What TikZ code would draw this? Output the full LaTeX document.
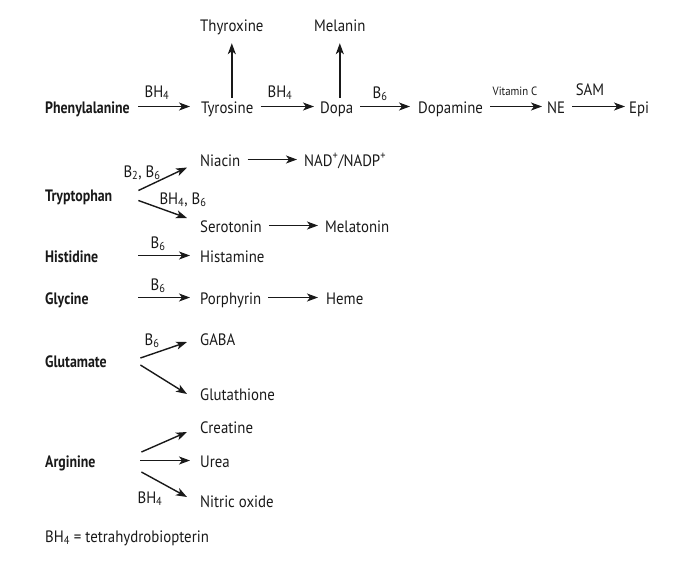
\documentclass[tikz,border=0pt]{standalone}
\usepackage{fontspec}
\setmainfont{PT Sans}[FakeStretch=0.9,BoldFeatures={FakeStretch=0.84}]
\usetikzlibrary{arrows.meta,positioning}
\tikzset{mol/.style={anchor=base west,inner sep=0pt,text height=13pt,text depth=0pt,font=\fontsize{16.5}{19}\selectfont},
  amino/.style={mol,font=\fontsize{16.5}{19}\selectfont\bfseries,text width=86pt},
  cof/.style={anchor=base,inner sep=0pt,font=\fontsize{16.5}{19}\selectfont},
  conv/.style={-{Stealth[length=11pt,width=8pt,inset=3pt]},line width=1.4pt,shorten <=7pt,shorten >=7pt},
  fork/.style={conv,shorten <=0pt,shorten >=0pt}}

\begin{document}
\begin{tikzpicture}[x=1pt,y=-1pt,color=black!90]
    \useasboundingbox (0,0) rectangle (685,566);

    \node[amino] (phe) at (45,113) {Phenylalanine};
    \node[mol] (tyr) at (201,113) {Tyrosine};
    \node[mol] (dopa) at (320,113) {Dopa};
    \node[mol] (dpm) at (418,113) {Dopamine};
    \node[mol] (ne) at (547,113) {NE};
    \node[mol] (epi) at (629,113) {Epi};
    \node[mol] (thy) at (200,31) {Thyroxine};
    \node[mol] (mel) at (314,31) {Melanin};

    \node[amino] (trp) at (45,201) {Tryptophan};
    \node[mol] (nia) at (200,166) {Niacin};
    \node[mol] (nad) at (304,166) {NAD\textsuperscript{+}/NADP\textsuperscript{+}};
    \node[mol] (ser) at (200,232) {Serotonin};
    \node[mol] (mlt) at (325,232) {Melatonin};

    \node[amino] (his) at (45,262) {Histidine};
    \node[mol] (hsm) at (200,262) {Histamine};

    \node[amino] (gly) at (45,304) {Glycine};
    \node[mol] (por) at (200,304) {Porphyrin};
    \node[mol] (heme) at (326,304) {Heme};

    \node[amino] (glu) at (45,367) {Glutamate};
    \node[mol] (gaba) at (200,345) {GABA};
    \node[mol] (gsh) at (200,400) {Glutathione};

    \node[amino] (arg) at (45,467) {Arginine};
    \node[mol] (cre) at (200,433) {Creatine};
    \node[mol] (urea) at (200,467) {Urea};
    \node[mol] (no) at (200,507) {Nitric oxide};

    \node[cof] (l1) at (157,97) {BH\textsubscript{4}};
    \node[cof] (l2) at (280,97) {BH\textsubscript{4}};
    \node[cof] (l3) at (380,98) {B\textsubscript{6}};
    \node[cof,font=\fontsize{12}{14}\selectfont] (l4) at (515,95) {Vitamin C};
    \node[cof] (l5) at (590,95) {SAM};
    \node[cof] (l6) at (142,177) {B\textsubscript{2}, B\textsubscript{6}};
    \node[cof] (l7) at (183,204) {BH\textsubscript{4}, B\textsubscript{6}};
    \node[cof] (l8) at (158,248) {B\textsubscript{6}};
    \node[cof] (l9) at (158,290) {B\textsubscript{6}};
    \node[cof] (l10) at (152,345) {B\textsubscript{6}};
    \node[cof] (l11) at (150,503) {BH\textsubscript{4}};

    \node[mol] (key) at (45,542) {BH\textsubscript{4} = tetrahydrobiopterin};

    \draw[conv,shorten >=11pt] (phe) -- (tyr);
    \draw[conv,shorten >=6pt] (tyr) -- (dopa);
    \draw[conv,shorten >=8pt] (dopa) -- (dpm);
    \draw[conv,shorten >=5pt] (dpm) -- (ne);
    \draw[conv,shorten >=4pt] (ne) -- (epi);
    \draw[conv,shorten <=2pt,shorten >=12pt] (tyr.north -| thy) -- (thy);
    \draw[conv,shorten <=2pt,shorten >=12pt] (dopa.north -| mel) -- (mel);

    \draw[fork] ([xshift=7pt,yshift=4pt]trp.east) -- ([xshift=-13pt,yshift=-8pt]nia.west);
    \draw[fork] ([xshift=7pt,yshift=-6pt]trp.east) -- ([xshift=-13pt,yshift=7.5pt]ser.west);
    \draw[conv] (nia) -- (nad);
    \draw[conv] (ser) -- (mlt);

    \draw[conv,shorten >=10pt] (his) -- (hsm);
    \draw[conv,shorten >=10pt] (gly) -- (por);
    \draw[conv,shorten >=8pt] (por) -- (heme);

    \draw[fork] ([xshift=9pt,yshift=2.5pt]glu.east) -- ([xshift=-13pt,yshift=-3.5pt]gaba.west);
    \draw[fork] ([xshift=9pt,yshift=-4.5pt]glu.east) -- ([xshift=-13pt,yshift=-0.5pt]gsh.west);

    \draw[fork] ([xshift=10pt,yshift=8.5pt]arg.east) -- ([xshift=-13pt,yshift=-5.5pt]cre.west);
    \draw[conv,shorten <=9pt,shorten >=10pt] (arg) -- (urea);
    \draw[fork] ([xshift=10pt,yshift=-11.5pt]arg.east) -- ([xshift=-13pt,yshift=3.5pt]no.west);
\end{tikzpicture}
\end{document}
